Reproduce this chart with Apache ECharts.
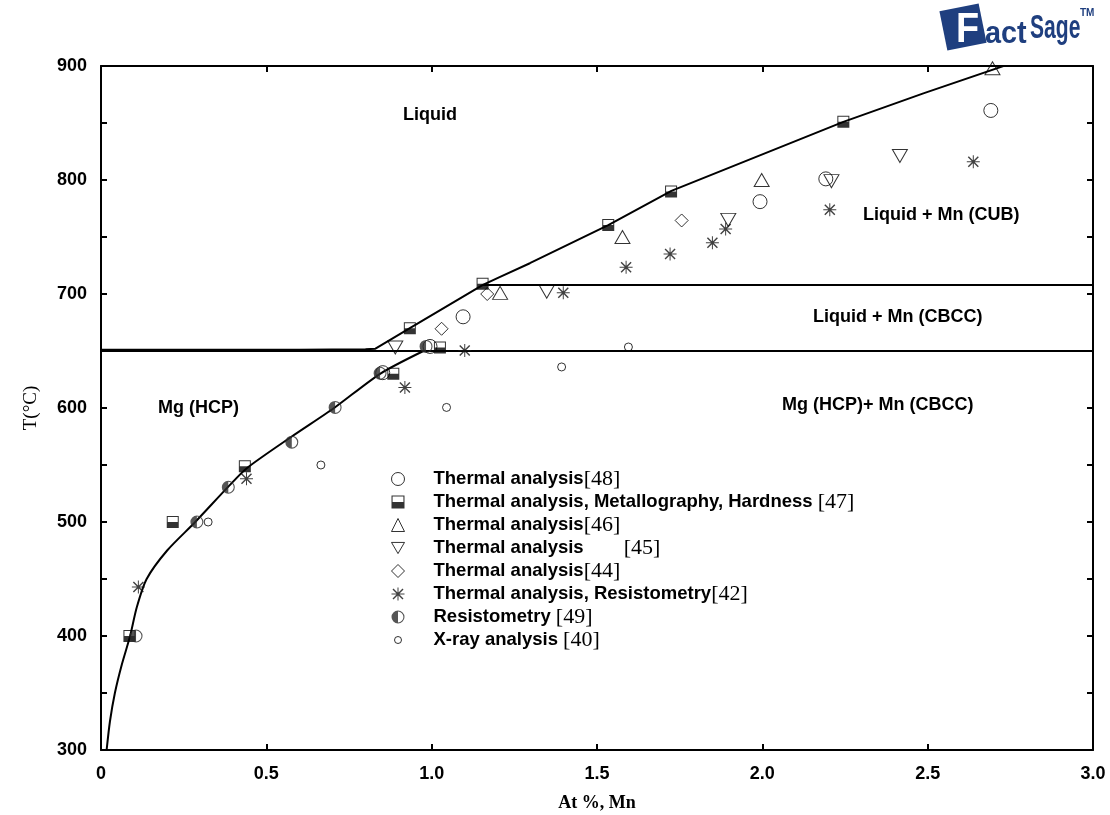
<!DOCTYPE html>
<html>
<head>
<meta charset="utf-8">
<script src="https://cdn.jsdelivr.net/npm/echarts@6/dist/echarts.min.js"></script>
<style>
  html, body { margin: 0; padding: 0; background: #fff; }
  #chart { width: 1110px; height: 815px; }
</style>
</head>
<body>
<div id="chart"></div>
<script>
// axis ticks
const xTicks = [0, 0.5, 1.0, 1.5, 2.0, 2.5, 3.0];
const yTicks = [300, 400, 500, 600, 700, 800, 900];

// calculated phase boundaries (At % Mn, T °C)
const liquidusLine = [[0, 651], [0.6, 651], [0.8, 651.5], [0.83, 652], [0.934, 670], [1.155, 708],
  [1.207, 715], [1.297, 727], [1.534, 760.5], [1.725, 790.5], [2.245, 851], [2.487, 876], [2.74, 901]];
const solvusLine = [[0.017, 300], [0.027, 325], [0.042, 350], [0.063, 375], [0.088, 400], [0.108, 425],
  [0.138, 450], [0.2, 475], [0.285, 500], [0.385, 531], [0.44, 547], [0.577, 575], [0.705, 600],
  [0.844, 630], [0.975, 650]];
const eutecticLine = [[0, 650], [3, 650]];
const peritecticLine = [[1.155, 708], [3, 708]];

// experimental points
const thermal48 = [[1.095, 680], [1.993, 781], [2.192, 801], [2.691, 861], [0.852, 631], [0.995, 654]];
const thermal47 = [[0.086, 400], [0.217, 500], [0.435, 549], [0.884, 630], [1.025, 653], [0.934, 670],
  [1.154, 709], [1.534, 760.5], [1.724, 790], [2.245, 851]];
const thermal46 = [[1.207, 701], [1.577, 750], [1.998, 800], [2.696, 898]];
const thermal45 = [[0.89, 653], [1.348, 702], [1.897, 765], [2.209, 799], [2.416, 821]];
const thermal44 = [[1.03, 669.5], [1.168, 700], [1.756, 764.5]];
const thermal42 = [[0.113, 443], [0.44, 538], [0.919, 618], [1.10, 650.5], [1.398, 701], [1.588, 723.5],
  [1.721, 735], [1.849, 745], [1.889, 757], [2.204, 774], [2.638, 816]];
const resist49 = [[0.042, 298], [0.106, 400], [0.29, 500], [0.385, 530.5], [0.577, 570], [0.708, 600.5],
  [0.844, 630.5], [0.983, 654]];
const xray40 = [[0.324, 500], [0.665, 550], [1.045, 600.5], [1.393, 636], [1.595, 653.5]];

const seriesNames = [
  'Thermal analysis [48]',
  'Thermal analysis, Metallography, Hardness [47]',
  'Thermal analysis [46]',
  'Thermal analysis [45]',
  'Thermal analysis [44]',
  'Thermal analysis, Resistometry [42]',
  'Resistometry [49]',
  'X-ray analysis [40]'
];
const legendText = {
  'Thermal analysis [48]': '{s| }{a|Thermal analysis}{b|[48]}',
  'Thermal analysis, Metallography, Hardness [47]': '{s| }{a|Thermal analysis, Metallography, Hardness }{b|[47]}',
  'Thermal analysis [46]': '{s| }{a|Thermal analysis}{b|[46]}',
  'Thermal analysis [45]': '{s| }{a|Thermal analysis}{g| }{b|[45]}',
  'Thermal analysis [44]': '{s| }{a|Thermal analysis}{b|[44]}',
  'Thermal analysis, Resistometry [42]': '{s| }{a|Thermal analysis, Resistometry}{b|[42]}',
  'Resistometry [49]': '{s| }{a|Resistometry }{b|[49]}',
  'X-ray analysis [40]': '{s| }{a|X-ray analysis }{b|[40]}'
};

const SANS = '"Liberation Sans", Arial, sans-serif';
const SERIF = '"Liberation Serif", "Times New Roman", serif';
const LOGO_BLUE = '#1f3f7f';

// marker shapes
const halfSquare = 'path://M0,0 H12 V12 H0 Z M1,1 V6 H11 V1 Z';
const halfCircle = 'path://M0,6.5 A6.5,6.5 0 1,1 13,6.5 A6.5,6.5 0 1,1 0,6.5 Z ' +
  'M1.1,6.5 A5.4,5.4 0 1,0 11.9,6.5 A5.4,5.4 0 1,0 1.1,6.5 Z ' +
  'M6.5,11.9 A5.4,5.4 0 0,1 6.5,1.1 Z';
const asterisk = 'path://M6,0 H7 V13 H6 Z M0,6 H13 V7 H0 Z M1,2 L2,1 L12,11 L11,12 Z M11,1 L12,2 L2,12 L1,11 Z';
const downTri = 'path://M0,0 H14 L7,12 Z';
const smallCircleIcon = 'path://M0,0 M13,13 M3,6.5 A3.5,3.5 0 1,1 10,6.5 A3.5,3.5 0 1,1 3,6.5 Z';

const openStyle = { color: 'rgba(0,0,0,0)', borderColor: '#000', borderWidth: 1 };

function boundary(data, smooth) {
  return {
    type: 'line', data: data, showSymbol: false, symbol: 'none', silent: true, z: 2,
    smooth: smooth || false,
    lineStyle: { color: '#000', width: 2 }
  };
}
function points(name, data, symbol, size, style) {
  return {
    name: name, type: 'scatter', data: data, symbol: symbol, symbolSize: size, z: 3,
    itemStyle: style
  };
}

const chart = echarts.init(document.getElementById('chart'));

const axisCommon = {
  type: 'value',
  axisLine: { show: true, onZero: false, lineStyle: { color: '#000', width: 2 } },
  axisTick: { show: true, inside: true, length: 6, lineStyle: { color: '#000', width: 2 } },
  splitLine: { show: false }
};

chart.setOption({
  animation: false,
  backgroundColor: '#fff',
  grid: { left: 101, right: 17, top: 66, bottom: 65, containLabel: false, outerBoundsMode: 'none' },
  xAxis: [
    Object.assign({}, axisCommon, {
      position: 'bottom', min: 0, max: 3, interval: 0.5,
      axisLabel: {
        margin: 15, color: '#000', fontFamily: SANS, fontWeight: 'bold', fontSize: 18,
        formatter: v => (xTicks.indexOf(v) === 0 ? '0' : v.toFixed(1))
      },
      name: 'At %, Mn', nameLocation: 'middle', nameGap: 44,
      nameTextStyle: { color: '#000', fontFamily: SERIF, fontWeight: 'bold', fontSize: 18 }
    }),
    Object.assign({}, axisCommon, {
      position: 'top', min: 0, max: 3, interval: 0.5, axisLabel: { show: false }
    })
  ],
  yAxis: [
    Object.assign({}, axisCommon, {
      position: 'left', min: yTicks[0], max: yTicks[yTicks.length - 1], interval: 100,
      minorTick: { show: true, splitNumber: 2, length: 6, lineStyle: { color: '#000', width: 2 } },
      axisLabel: { margin: 14, color: '#000', fontFamily: SANS, fontWeight: 'bold', fontSize: 18 },
      name: 'T(°C)', nameLocation: 'middle', nameRotate: 90, nameGap: 60,
      nameTextStyle: { color: '#000', fontFamily: SERIF, fontSize: 19 }
    }),
    Object.assign({}, axisCommon, {
      position: 'right', min: 300, max: 900, interval: 100,
      minorTick: { show: true, splitNumber: 2, length: 6, lineStyle: { color: '#000', width: 2 } },
      axisLabel: { show: false }
    })
  ],
  legend: {
    orient: 'vertical', left: 386, top: 463, itemWidth: 13, itemHeight: 13, itemGap: 1,
    selectedMode: false,
    itemStyle: { borderWidth: 1 },
    data: seriesNames.map(n => n === 'X-ray analysis [40]' ? { name: n, icon: smallCircleIcon } : { name: n }),
    formatter: name => legendText[name],
    textStyle: {
      color: '#000',
      rich: {
        s: { width: 24, lineHeight: 23 },
        a: { fontFamily: SANS, fontWeight: 'bold', fontSize: 18.5, lineHeight: 23, color: '#000' },
        b: { fontFamily: SERIF, fontSize: 22, lineHeight: 23, color: '#000' },
        g: { width: 40, lineHeight: 23 }
      }
    }
  },
  series: [
    boundary(liquidusLine),
    boundary(solvusLine, 0.25),
    boundary(eutecticLine),
    boundary(peritecticLine),
    points(seriesNames[0], thermal48, 'circle', 14, openStyle),
    points(seriesNames[1], thermal47, halfSquare, 12, { color: '#000' }),
    points(seriesNames[2], thermal46, 'triangle', [15, 13], openStyle),
    points(seriesNames[3], thermal45, downTri, [15, 13], openStyle),
    points(seriesNames[4], thermal44, 'diamond', [13, 13], openStyle),
    points(seriesNames[5], thermal42, asterisk, 13, { color: '#111' }),
    points(seriesNames[6], resist49, halfCircle, 13, { color: '#2a2a2a' }),
    points(seriesNames[7], xray40, 'circle', 8, openStyle)
  ],
  graphic: [
    // phase field labels
    { type: 'text', left: 403, top: 106, style: { text: 'Liquid', fill: '#000', font: 'bold 18px ' + SANS } },
    { type: 'text', left: 863, top: 206, style: { text: 'Liquid + Mn (CUB)', fill: '#000', font: 'bold 18px ' + SANS } },
    { type: 'text', left: 813, top: 308, style: { text: 'Liquid + Mn (CBCC)', fill: '#000', font: 'bold 18px ' + SANS } },
    { type: 'text', left: 158, top: 399, style: { text: 'Mg (HCP)', fill: '#000', font: 'bold 18px ' + SANS } },
    { type: 'text', left: 782, top: 396, style: { text: 'Mg (HCP)+ Mn (CBCC)', fill: '#000', font: 'bold 18px ' + SANS } },
    // FactSage logo
    { type: 'rect', x: 963, y: 27, rotation: 0.2, shape: { x: -20, y: -20, width: 40, height: 40 },
      style: { fill: LOGO_BLUE } },
    { type: 'text', x: 956, y: 9, scaleX: 0.9, style: { text: 'F', fill: '#fff', stroke: LOGO_BLUE, lineWidth: 1.5, font: 'bold 42px ' + SANS } },
    { type: 'text', x: 985, y: 18, scaleX: 0.9, style: { text: 'act', fill: LOGO_BLUE, font: 'bold 32px ' + SANS } },
    { type: 'text', x: 1030, y: 12, scaleX: 0.62, style: { text: 'Sage', fill: LOGO_BLUE, font: 'bold 34px ' + SANS } },
    { type: 'text', x: 1080, y: 8, style: { text: 'TM', fill: LOGO_BLUE, font: 'bold 10px ' + SANS } }
  ]
});

window.addEventListener('resize', () => chart.resize());
</script>
</body>
</html>
